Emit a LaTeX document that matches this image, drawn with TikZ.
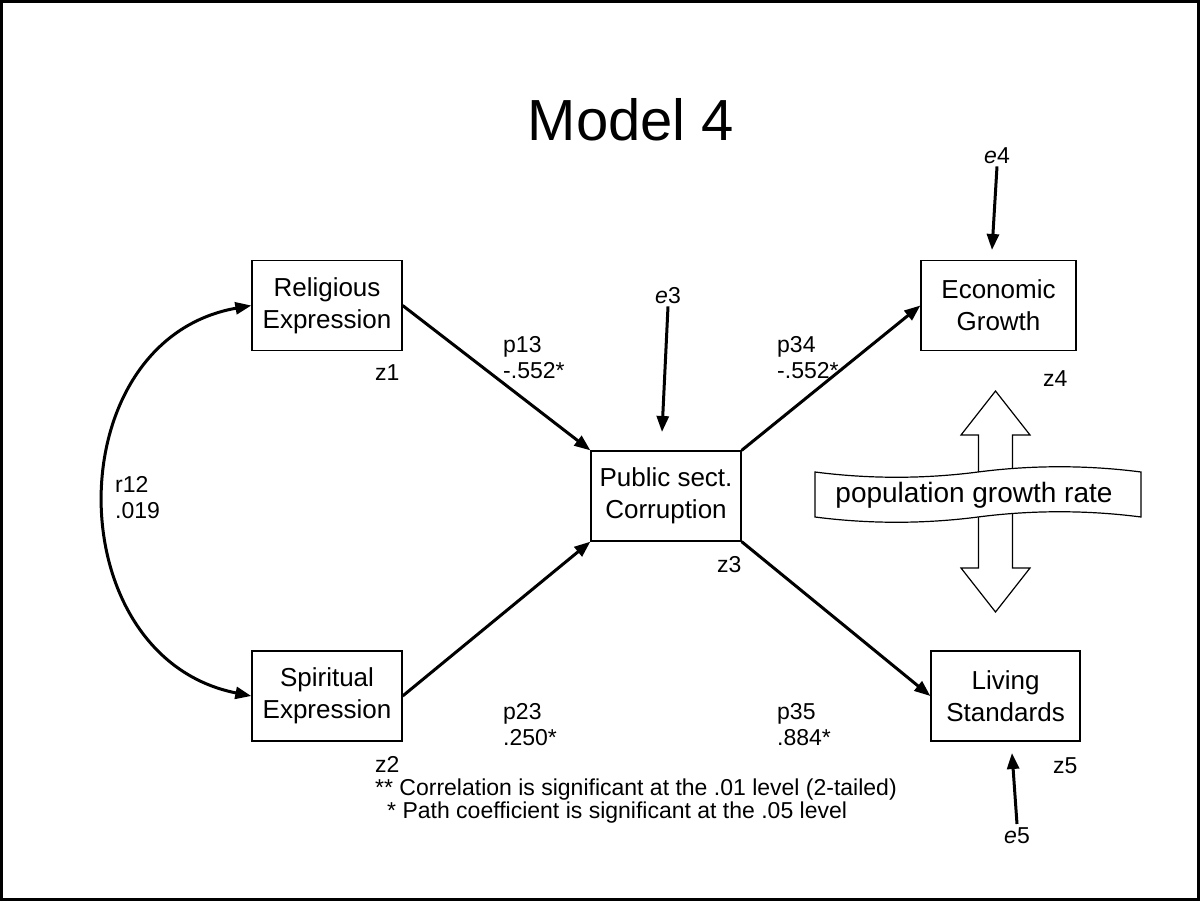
\documentclass[tikz,border=0pt]{standalone}
\usepackage{fontspec}
\setmainfont{Liberation Sans}
\usetikzlibrary{arrows.meta}
\tikzset{
  varbox/.style={draw, line width=1.3pt, align=center, inner sep=0pt,
    minimum width=150pt, minimum height=90pt, font=\fontsize{26}{32}\selectfont},
  lbl/.style={anchor=base west, inner sep=0pt, align=left, font=\fontsize{23}{26}\selectfont},
  errlbl/.style={anchor=base, inner sep=3pt, font=\fontsize{23}{26}\selectfont},
  coef/.style={line width=3pt, -{Triangle[length=16pt,width=12pt]}},
  corr/.style={line width=3pt, {Triangle[length=16pt,width=12pt]}-{Triangle[length=16pt,width=12pt]}}
}
% two line label, placed at the baseline of its last line
\newcommand\pathlabel[5]{%
  \node[lbl] (#1) at (#2,#3) {#4\\#5}
}
\newcommand\errterm[4]{%
  \node[errlbl] (#1) at (#2,#3) {\textit{e}#4}
}

\begin{document}
\begin{tikzpicture}[x=1pt,y=-1pt]
        \useasboundingbox (0,0) rectangle (1201,902);
        \draw[line width=2.5pt] (1.5,1.5) rectangle (1198.5,899.5);
        \node[anchor=base, inner sep=0pt, font=\fontsize{58}{68}\selectfont] (title) at (631,140) {Model 4};

        % The variables
        \node[varbox] (rel) at (327,305.5) {Religious\\Expression};
        \node[varbox] (spi) at (327,696) {Spiritual\\Expression};
        \node[varbox] (pub) at (666,496) {Public sect.\\Corruption};
        \node[varbox, minimum width=155pt] (eco) at (998.5,305.5) {Economic\\Growth};
        \node[varbox, minimum width=149pt] (liv) at (1005.5,696) {Living\\Standards};
        \node[lbl] (z1) at (375,380) {z1};
        \node[lbl] (z2) at (375,772) {z2};
        \node[lbl] (z3) at (717,572) {z3};
        \node[lbl] (z4) at (1043,386) {z4};
        \node[lbl] (z5) at (1053,773) {z5};

        % The paths
        \draw[corr] (rel.west) .. controls (56,340) and (56,657) .. (spi.west);
        \draw[coef] (rel.east) -- (pub.north west);
        \draw[coef] (spi.east) -- (pub.south west);
        \draw[coef] (pub.north east) -- (eco.west);
        \draw[coef] (pub.south east) -- (liv.west);
        \node[lbl] (r12) at (115,518) {r12\\.019};
        \pathlabel{p13}{503}{378}{p13}{-.552*};
        \pathlabel{p23}{503}{745}{p23}{.250*};
        \pathlabel{p34}{777}{378}{p34}{-.552*};
        \pathlabel{p35}{777}{745}{p35}{.884*};

        % The error terms
        \errterm{e3}{668}{303}{3};
        \errterm{e4}{997}{163}{4};
        \errterm{e5}{1017}{843}{5};
        \coordinate (e3end) at (662,432);
        \coordinate (e4end) at (992,250);
        \coordinate (e5end) at (1012,753);
        \draw[coef] (e3.south) -- (e3end);
        \draw[coef] (e4.south) -- (e4end);
        \draw[coef] (e5.north) -- (e5end);

        % Population growth rate
        \draw[line width=1.2pt, fill=white] (995.5,391) -- (1030,435) -- (1012.5,435) -- (1012.5,568)
          -- (1030,568) -- (995.5,612) -- (961,568) -- (978.5,568) -- (978.5,435) -- (961,435) -- cycle;
        \draw[line width=1.2pt, fill=white] (815,472) .. controls (869,479) and (924,479) .. (978,472)
          .. controls (1032,465) and (1087,465) .. (1141,472) -- (1141,517)
          .. controls (1087,510) and (1032,510) .. (978,517)
          .. controls (924,524) and (869,524) .. (815,517) -- cycle;
        \node[inner sep=0pt, font=\fontsize{28}{32}\selectfont] (pop) at (974,495) {population growth rate};

        % Notes
        \node[lbl, font=\fontsize{23}{21}\selectfont] (note) at (375,818)
          {** Correlation is significant at the .01 level (2-tailed)\\
           \hspace*{12pt}* Path coefficient is significant at the .05 level};
\end{tikzpicture}
\end{document}
